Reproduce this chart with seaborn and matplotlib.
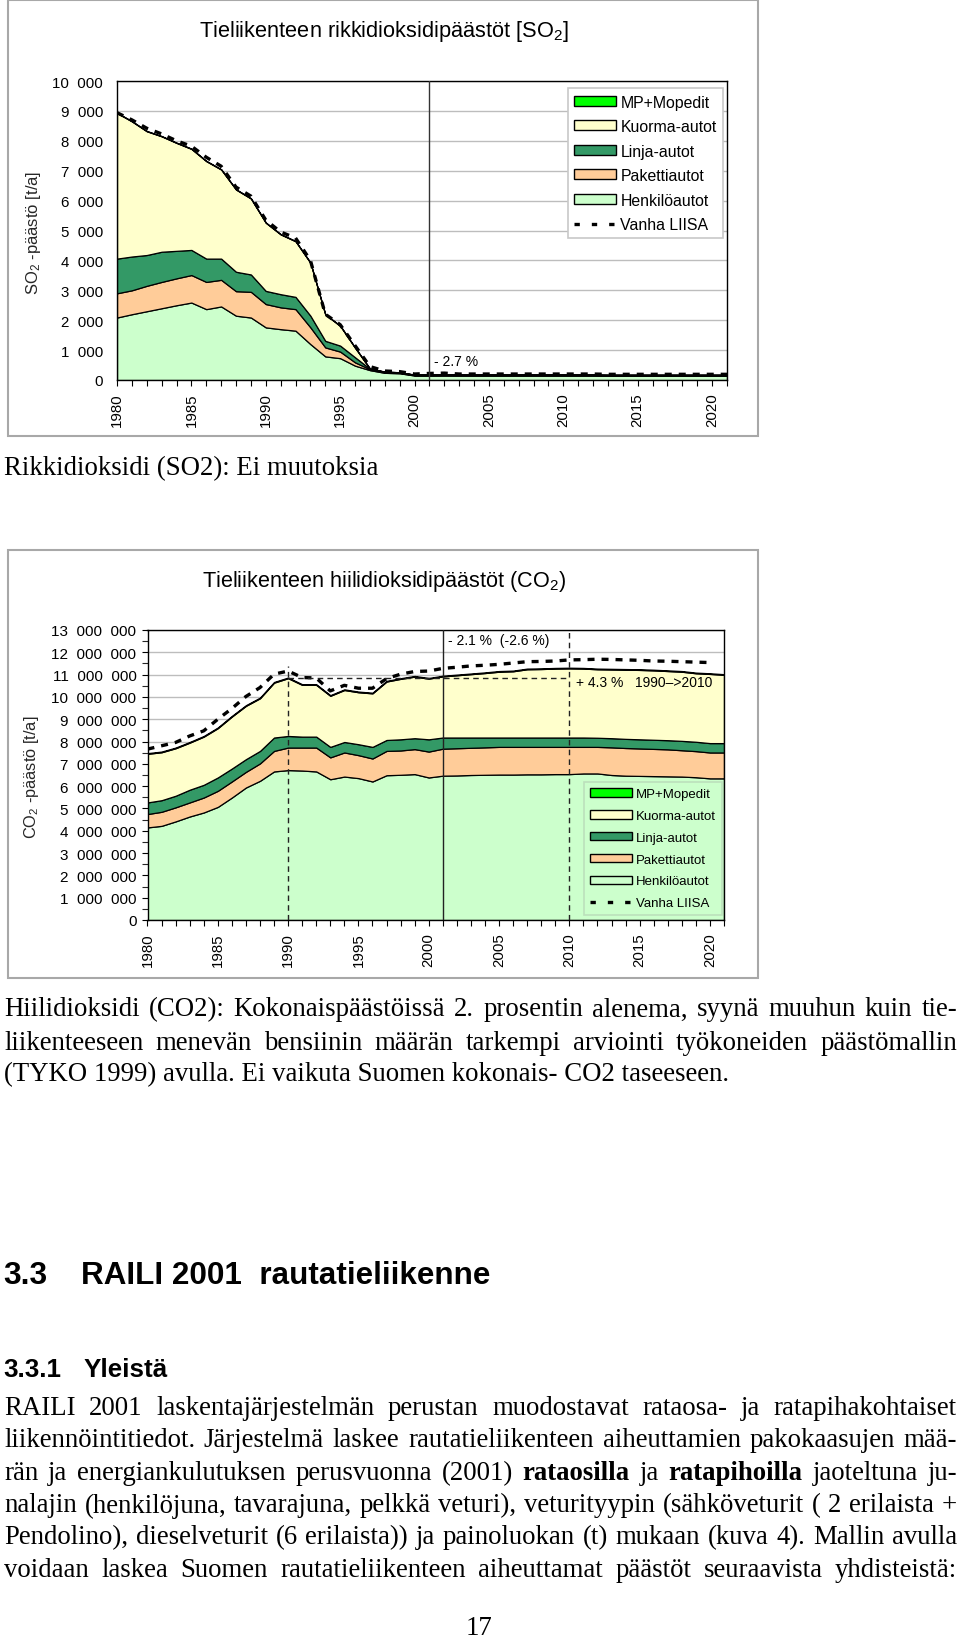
import numpy as np
import matplotlib
matplotlib.use("Agg")
import matplotlib.pyplot as plt
import seaborn as sns
from matplotlib.patches import Rectangle, Patch
from matplotlib.lines import Line2D
from matplotlib.ticker import FuncFormatter, MultipleLocator

sns.set_theme(style="white")
plt.rcParams["font.family"] = ["Liberation Sans", "DejaVu Sans"]
plt.rcParams["mathtext.fontset"] = "custom"
plt.rcParams["mathtext.rm"] = "Liberation Sans"
plt.rcParams["mathtext.it"] = "Liberation Sans:italic"
plt.rcParams["mathtext.bf"] = "Liberation Sans:bold"
plt.rcParams["text.color"] = "black"

# ---------------- data ----------------
years = list(range(1980, 2022))
years_old = list(range(1980, 2022))
years_old_co2 = list(range(1980, 2021))

series_labels = ["Henkilöautot", "Pakettiautot", "Linja-autot", "Kuorma-autot", "MP+Mopedit"]
series_colors = ["#CCFFCC", "#FFCC99", "#339966", "#FFFFCC", "#00FF00"]
old_label = "Vanha LIISA"

# SO2 emissions [t/a]
so2_henkiloautot = [2090, 2200, 2300, 2400, 2500, 2590, 2370, 2460, 2150, 2090,
                    1760, 1700, 1650, 1200, 790, 730, 480, 330, 240, 225,
                    150, 150, 151, 150, 150, 150, 150, 150, 150, 150,
                    150, 150, 150, 146, 146, 146, 146, 146, 146, 146,
                    146, 146]
so2_pakettiautot = [810, 800, 850, 880, 900, 920, 910, 890, 820, 860,
                    780, 730, 720, 560, 300, 220, 110, 30, 20, 18,
                    14, 14, 14, 14, 14, 14, 14, 14, 14, 14,
                    14, 14, 14, 13, 13, 13, 13, 13, 13, 13,
                    13, 13]
so2_linja_autot = [1160, 1130, 1030, 1010, 920, 840, 780, 710, 650, 580,
                   440, 440, 410, 390, 220, 200, 170, 15, 10, 9,
                   7, 7, 7, 7, 7, 7, 7, 7, 7, 7,
                   7, 7, 7, 7, 7, 7, 7, 7, 7, 7,
                   7, 7]
so2_kuorma_autot = [4870, 4520, 4140, 3860, 3610, 3380, 3260, 2980, 2750, 2540,
                    2280, 2000, 1860, 1770, 880, 660, 320, 5, 8, 6,
                    7, 7, 7, 7, 7, 7, 7, 7, 7, 7,
                    7, 7, 7, 7, 7, 7, 7, 7, 7, 7,
                    7, 7]
so2_mp_mopedit = [10, 10, 10, 10, 10, 10, 10, 10, 10, 10,
                  10, 10, 10, 10, 10, 10, 10, 2, 2, 2,
                  2, 2, 2, 2, 2, 2, 2, 2, 2, 2,
                  2, 2, 2, 2, 2, 2, 2, 2, 2, 2,
                  2, 2]
so2_vanha_liisa = [8940, 8700, 8420, 8230, 8000, 7820, 7450, 7150, 6450, 6150,
                   5350, 4950, 4750, 4000, 2200, 1850, 1150, 450, 300, 280,
                   200, 220, 230, 200, 200, 200, 200, 200, 200, 200,
                   200, 200, 200, 190, 190, 190, 190, 190, 190, 190,
                   190, 190]

# CO2 emissions [1000 t/a]
co2_henkiloautot = [4150, 4220, 4420, 4640, 4820, 5070, 5490, 5940, 6240, 6660,
                    6720, 6700, 6660, 6310, 6430, 6360, 6210, 6490, 6510, 6540,
                    6390, 6470, 6480, 6500, 6510, 6520, 6520, 6530, 6530, 6540,
                    6540, 6570, 6570, 6500, 6470, 6460, 6450, 6440, 6430, 6400,
                    6350, 6350]
co2_pakettiautot = [600, 630, 630, 630, 670, 720, 720, 700, 780, 920,
                    1010, 1030, 1070, 980, 1080, 1030, 1030, 1090, 1090, 1120,
                    1160, 1210, 1220, 1220, 1230, 1240, 1240, 1230, 1230, 1220,
                    1220, 1190, 1190, 1240, 1240, 1230, 1220, 1210, 1180, 1170,
                    1160, 1160]
co2_linja_autot = [520, 520, 520, 570, 570, 600, 580, 570, 560, 600,
                   520, 490, 490, 470, 470, 490, 520, 490, 500, 490,
                   550, 500, 480, 460, 440, 420, 420, 420, 420, 420,
                   420, 420, 410, 410, 410, 410, 410, 410, 420, 420,
                   420, 420]
co2_kuorma_autot = [2180, 2150, 2130, 2110, 2160, 2210, 2330, 2390, 2360, 2460,
                    2590, 2320, 2320, 2290, 2330, 2330, 2400, 2620, 2710, 2760,
                    2720, 2740, 2790, 2840, 2890, 2950, 2970, 3060, 3070, 3090,
                    3100, 3090, 3070, 3080, 3100, 3110, 3110, 3100, 3100, 3070,
                    3100, 3060]
co2_mp_mopedit = [30, 30, 30, 30, 30, 30, 30, 30, 30, 30,
                  30, 30, 30, 30, 30, 30, 30, 30, 30, 30,
                  30, 30, 30, 30, 30, 30, 30, 30, 30, 30,
                  30, 30, 30, 30, 30, 30, 30, 30, 30, 30,
                  30, 30]
co2_vanha_liisa = [7660, 7810, 7960, 8250, 8480, 9000, 9480, 10020, 10420, 11020,
                   11160, 10870, 10850, 10270, 10520, 10390, 10390, 10820, 11020, 11140,
                   11160, 11280, 11330, 11390, 11420, 11460, 11520, 11580, 11590, 11610,
                   11660, 11670, 11690, 11680, 11660, 11640, 11610, 11600, 11580, 11560,
                   11540]

so2_title = "Tieliikenteen rikkidioksidipäästöt [SO$_2$]"
co2_title = "Tieliikenteen hiilidioksidipäästöt (CO$_2$)"
so2_ylabel = "SO$_2$ -päästö [t/a]"
co2_ylabel = "CO$_2$ -päästö [t/a]"
so2_note = "- 2.7 %"
co2_note1 = "- 2.1 %  (-2.6 %)"
co2_note2 = "+ 4.3 %   1990\u2013>2010"

# ---------------- figure ----------------
W, H = 960, 1640
fig = plt.figure(figsize=(W / 100, H / 100), dpi=100)
SERIF = ["Liberation Serif", "DejaVu Serif"]


def add_axes_px(left, top, right, bottom):
    return fig.add_axes([left / W, 1 - bottom / H, (right - left) / W, (bottom - top) / H])


def frame_px(x0, y0, x1, y1):
    fig.patches.append(Rectangle((x0 / W, 1 - y1 / H), (x1 - x0) / W, (y1 - y0) / H,
                                 transform=fig.transFigure, fill=False,
                                 edgecolor="#a8a8a8", lw=1.5))


def thousands(v, pos):
    return f"{int(round(v)):,}".replace(",", "\u2007")


DASH = (0, (2.1, 2.1))
LW_OLD = 2.4


def draw_chart(ax, series, old_years, old_vals, ymax, ystep, ysize, ylabel, ylabel_xy, ylabel_size):
    ax.stackplot(years, *series, colors=series_colors, edgecolor="black",
                 linewidth=0.9, labels=series_labels, zorder=2)
    sns.lineplot(x=old_years, y=old_vals, ax=ax, color="black", lw=LW_OLD,
                 linestyle=DASH, legend=False, zorder=4)
    ax.set_xlim(1980, 2021)
    ax.set_ylim(0, ymax)
    ax.set_xticks(years)
    ax.set_xticklabels([str(y) if y % 5 == 0 else "" for y in years],
                       rotation=90, fontsize=10.8)
    ax.yaxis.set_major_locator(MultipleLocator(ystep))
    ax.yaxis.set_major_formatter(FuncFormatter(thousands))
    ax.tick_params(axis="y", labelsize=ysize, colors="black")
    ax.tick_params(axis="x", bottom=True, direction="out", length=4, width=0.8,
                   colors="black", pad=5)
    ax.yaxis.grid(True, color="#bdbdbd", lw=1)
    ax.xaxis.grid(False)
    ax.set_axisbelow(True)
    for s in ax.spines.values():
        s.set_color("black")
        s.set_linewidth(1)
    ax.set_xlabel("")
    ax.set_ylabel(ylabel, fontsize=ylabel_size)
    ax.yaxis.set_label_coords(*ylabel_xy)


def legend_handles():
    hs = [Patch(facecolor=series_colors[i], edgecolor="black", lw=1) for i in [4, 3, 2, 1, 0]]
    hs.append(Line2D([], [], color="black", lw=LW_OLD, linestyle=(0, (1.6, 3.6))))
    labels = [series_labels[i] for i in [4, 3, 2, 1, 0]] + [old_label]
    return hs, labels


# ---- SO2 chart ----
frame_px(8, 1, 758, 437)
ax1 = add_axes_px(117, 82, 727, 381)
draw_chart(ax1, [so2_henkiloautot, so2_pakettiautot, so2_linja_autot, so2_kuorma_autot, so2_mp_mopedit],
           years_old, so2_vanha_liisa, 10000, 1000, 10.8, so2_ylabel, (-0.121, 0.495), 12)
ax1.tick_params(axis="y", left=False, length=0, pad=10)
ax1.axvline(2001, color="#333333", lw=1, zorder=5)
ax1.text(2001.3, 640, so2_note, fontsize=10, ha="left", va="center", zorder=6)
h, l = legend_handles()
leg1 = ax1.legend(h, l, loc="upper right", bbox_to_anchor=(0.9934, 0.976), fontsize=11.4,
                  frameon=True, fancybox=False, edgecolor="#c8c8c8", framealpha=1,
                  handlelength=2.6, handleheight=0.6, labelspacing=0.6,
                  handletextpad=0.3, borderpad=0.4, borderaxespad=0)
leg1.get_frame().set_linewidth(1.2)
fig.text(384 / W, 1 - 31 / H, so2_title, fontsize=15.7, ha="center", va="center")

# ---- CO2 chart ----
frame_px(8, 551, 758, 979)
ax2 = add_axes_px(147.5, 631, 724, 921)
co2_series = [np.array(s) * 1000 for s in
              [co2_henkiloautot, co2_pakettiautot, co2_linja_autot, co2_kuorma_autot, co2_mp_mopedit]]
draw_chart(ax2, co2_series, years_old_co2, np.array(co2_vanha_liisa) * 1000,
           13000000, 1000000, 11, co2_ylabel, (-0.185, 0.497), 11.8)
ax2.yaxis.set_minor_locator(MultipleLocator(500000))
ax2.tick_params(axis="y", which="both", left=True, direction="out", length=4,
                width=0.8, pad=4)
total_1990 = sum(s[10] for s in co2_series)
ax2.axvline(2001, color="#222222", lw=1, zorder=5)
ax2.axvline(2010, color="#222222", lw=1, ls=(0, (4, 3)), zorder=5)
ax2.vlines(1990, 0, 11400000, color="#222222", lw=1, ls=(0, (4, 3)), zorder=5)
ax2.hlines(total_1990, 1990, 2010, color="#222222", lw=1, ls=(0, (4, 3)), zorder=5)
ax2.text(2001.35, 12550000, co2_note1, fontsize=10, ha="left", va="center", zorder=6)
ax2.text(2010.45, 10660000, co2_note2, fontsize=10, ha="left", va="center", zorder=6)
h, l = legend_handles()
leg2 = ax2.legend(h, l, loc="lower right", bbox_to_anchor=(0.9965, 0.017), fontsize=9.5,
                  frameon=True, fancybox=False, edgecolor="#b8d8b8",
                  handlelength=3.2, handleheight=0.6, labelspacing=0.74,
                  handletextpad=0.3, borderpad=0.45, borderaxespad=0)
leg2.get_frame().set_facecolor("none")
leg2.get_frame().set_linewidth(1.2)
fig.text(384 / W, 1 - 582 / H, co2_title, fontsize=15.6, ha="center", va="center")

# ---------------- page text ----------------
renderer = fig.canvas.get_renderer()
BODY = 19.3


def text_line(y, content, x0=4, x1=957, justify=True, size=BODY, family=SERIF):
    if not justify:
        fig.text(x0 / W, 1 - y / H, content, fontsize=size, family=family,
                 ha="left", va="center")
        return
    words = []
    for w in content:
        if isinstance(w, tuple):
            words.append(w)
        else:
            words.extend((p, "normal") for p in w.split())
    objs = [fig.text(0, 1 - y / H, t, fontsize=size, family=family, weight=wt,
                     ha="left", va="center") for t, wt in words]
    widths = [o.get_window_extent(renderer).width for o in objs]
    gap = (x1 - x0 - sum(widths)) / max(len(objs) - 1, 1)
    x = x0
    for o, wd in zip(objs, widths):
        o.set_x(x / W)
        x += wd + gap


text_line(469, "Rikkidioksidi (SO2): Ei muutoksia", justify=False)

text_line(1010, ["Hiilidioksidi (CO2): Kokonaispäästöissä 2. prosentin alenema, syynä muuhun kuin tie-"])
text_line(1043, ["liikenteeseen menevän bensiinin määrän tarkempi arviointi työkoneiden päästömallin"])
text_line(1075, "(TYKO 1999) avulla. Ei vaikuta Suomen kokonais- CO2 taseeseen.", justify=False)

fig.text(3 / W, 1 - 1276 / H, "3.3", fontsize=22.8, weight="bold", ha="left", va="center")
fig.text(81 / W, 1 - 1276 / H, "RAILI 2001  rautatieliikenne", fontsize=22.6, weight="bold",
         ha="left", va="center")
fig.text(3 / W, 1 - 1370 / H, "3.3.1", fontsize=18.7, weight="bold", ha="left", va="center")
fig.text(84 / W, 1 - 1370 / H, "Yleistä", fontsize=18.7, weight="bold", ha="left", va="center")

text_line(1409, ["RAILI 2001 laskentajärjestelmän perustan muodostavat rataosa- ja ratapihakohtaiset"])
text_line(1441, ["liikennöintitiedot. Järjestelmä laskee rautatieliikenteen aiheuttamien pakokaasujen mää-"])
text_line(1474, ["rän ja energiankulutuksen perusvuonna (2001)", ("rataosilla", "bold"), "ja",
                 ("ratapihoilla", "bold"), "jaoteltuna ju-"])
text_line(1506, ["nalajin (henkilöjuna, tavarajuna, pelkkä veturi), veturityypin (sähköveturit ( 2 erilaista +"])
text_line(1538, ["Pendolino), dieselveturit (6 erilaista)) ja painoluokan (t) mukaan (kuva 4). Mallin avulla"])
text_line(1571, ["voidaan laskea Suomen rautatieliikenteen aiheuttamat päästöt seuraavista yhdisteistä:"])

fig.text(479 / W, 1 - 1629 / H, "17", fontsize=BODY, family=SERIF, ha="center", va="center")

fig.savefig("out.png", dpi=100, facecolor="white")
